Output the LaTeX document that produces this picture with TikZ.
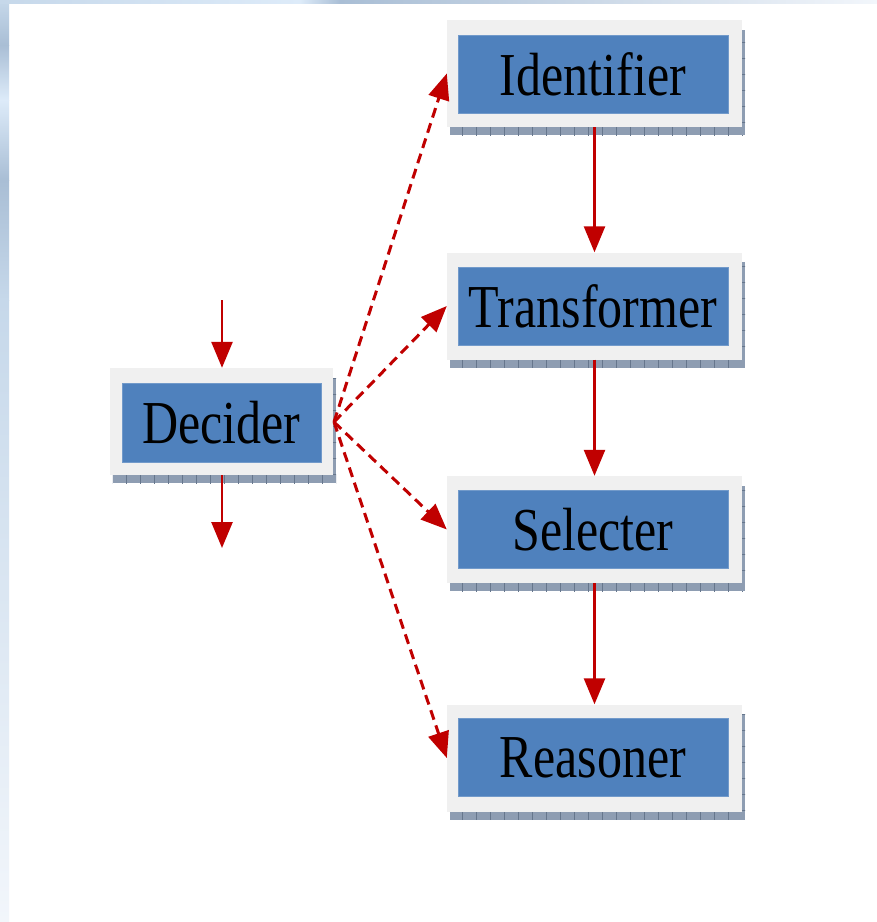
\documentclass[tikz,border=0pt]{standalone}
\usepackage{fontspec}
\setmainfont{Liberation Serif}
\usetikzlibrary{arrows.meta,calc,patterns.meta}

\definecolor{boxgray}{HTML}{F0F0F0}
\definecolor{boxblue}{HTML}{4F81BD}
\definecolor{shadowcol}{HTML}{8E9DB2}
\definecolor{tickcol}{HTML}{66768C}
\definecolor{flowred}{HTML}{C00000}
\definecolor{stripA}{HTML}{C6D8EA}
\definecolor{stripB}{HTML}{A9BED5}
\definecolor{stripC}{HTML}{DDEBF9}
\definecolor{stripD}{HTML}{F2F6FB}

\tikzset{
  outerbox/.style={fill=boxgray, draw=none, minimum width=295pt, minimum height=107pt, inner sep=0pt},
  innerbox/.style={fill=boxblue, draw=boxblue!80!white, line width=0.6pt, minimum width=270pt, minimum height=78pt,
    inner sep=0pt, font=\fontsize{50}{50}\selectfont, text=black},
  decouter/.style={outerbox, minimum width=223pt},
  decinner/.style={innerbox, minimum width=199pt, minimum height=79pt},
  flow/.style={draw=flowred, line width=2.6pt, -{Triangle[length=26pt,width=21pt]}, color=flowred},
  call/.style={draw=flowred, line width=3pt, dash pattern=on 10pt off 6pt,
    -{Triangle[length=26pt,width=21pt]}, color=flowred},
}

% stretched lettering
\newcommand\tallword[1]{\scalebox{1}[1.22]{#1}}

% shadow under and to the right of a box
\newcommand\dropshadow[1]{%
  \fill[shadowcol] ($(#1.south west)+(3,0)$) rectangle ($(#1.south east)+(3,8)$);
  \fill[pattern={Lines[angle=90,distance=14pt,line width=0.8pt]}, pattern color=tickcol]
       ($(#1.south west)+(3,0)$) rectangle ($(#1.south east)+(3,8)$);
  \fill[shadowcol] ($(#1.north east)+(0,10)$) rectangle ($(#1.south east)+(3,8)$);
  \fill[pattern={Lines[angle=0,distance=16pt,line width=0.8pt]}, pattern color=tickcol]
       ($(#1.north east)+(0,10)$) rectangle ($(#1.south east)+(3,0)$);
}

\begin{document}
\begin{tikzpicture}[x=1pt,y=-1pt]
  \useasboundingbox (0,0) rectangle (877,922);
  \fill[white] (0,0) rectangle (877,922);

  % slide frame: left and top gradient strips
  \shade[top color=stripA, bottom color=stripB] (0,0) rectangle (9,45);
  \shade[top color=stripB, bottom color=stripC] (0,45) rectangle (9,100);
  \shade[top color=stripC, bottom color=stripB] (0,100) rectangle (9,180);
  \shade[top color=stripB, bottom color=stripA] (0,180) rectangle (9,300);
  \shade[top color=stripA, bottom color=stripD] (0,300) rectangle (9,922);
  \shade[left color=stripA, right color=stripC] (0,0) rectangle (300,3);
  \shade[left color=stripC, right color=stripB] (300,0) rectangle (340,3);
  \shade[left color=stripB, right color=stripD] (340,0) rectangle (877,3);

  % boxes
  \node[outerbox] (idf) at (594.5,73.5) {};
  \node[outerbox] (trf) at (594.5,306) {};
  \node[outerbox] (sel) at (594.5,529.5) {};
  \node[outerbox] (rsn) at (594.5,758) {};
  \node[decouter] (dec) at (221.5,421.5) {};

  \dropshadow{idf}
  \dropshadow{trf}
  \dropshadow{sel}
  \dropshadow{rsn}
  \dropshadow{dec}

  % redraw faces over their shadows
  \node[outerbox] at (idf) {};
  \node[outerbox] at (trf) {};
  \node[outerbox] at (sel) {};
  \node[outerbox] at (rsn) {};
  \node[decouter] at (dec) {};

  \node[innerbox] (idf-in) at (593,74) {\tallword{Identifier}};
  \node[innerbox] (trf-in) at (593,306.5) {\tallword{Transformer}};
  \node[innerbox] (sel-in) at (593,529.5) {\tallword{Selecter}};
  \node[innerbox] (rsn-in) at (593,757.5) {\tallword{Reasoner}};
  \node[decinner] (dec-in) at (221.5,422.5) {\tallword{Decider}};

  % pipeline
  \draw[flow] (idf.south) -- (trf.north);
  \draw[flow] (trf.south) -- (sel.north);
  \draw[flow] (sel.south) -- (rsn.north);

  % decider input and output
  \coordinate (din) at (222,300);
  \coordinate (dout) at (222,548);
  \draw[flow] (din) -- (din |- dec.north);
  \draw[flow] (dout |- dec.south) -- (dout);

  % decider dispatch
  \coordinate (hub) at (334,422);
  \draw[call] (hub) -- (idf.west);
  \draw[call] (hub) -- (trf.west);
  \draw[call] (hub) -- (sel.west);
  \draw[call] (hub) -- (rsn.west);
\end{tikzpicture}
\end{document}
